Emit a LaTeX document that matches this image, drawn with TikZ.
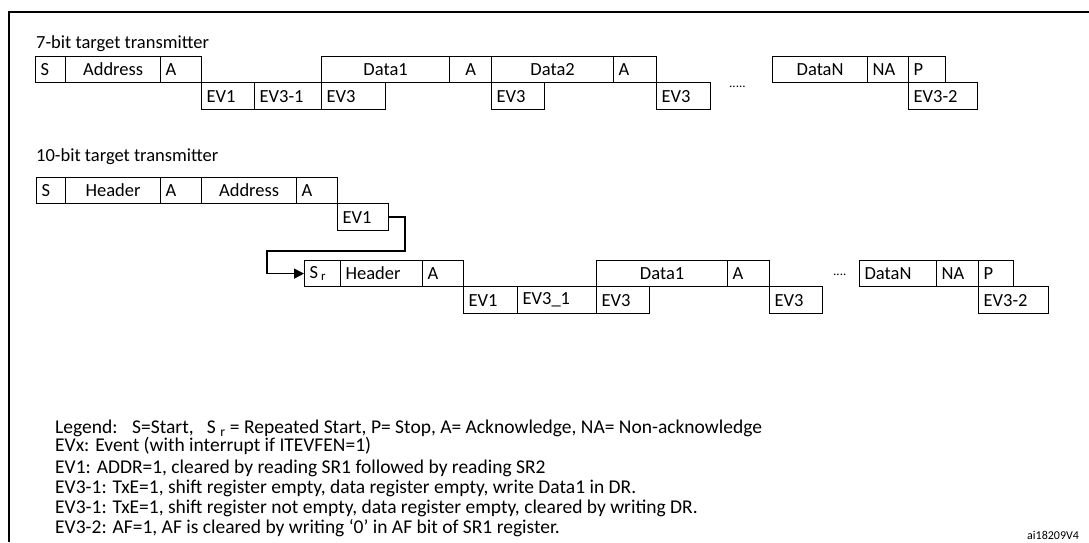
\documentclass[tikz,border=0pt]{standalone}
\usepackage{fontspec}
\setmainfont{Carlito}
\usetikzlibrary{arrows.meta}
\tikzset{
    fieldnode/.style = {
        draw=black,
        line width=1.2pt,
        rectangle,
        anchor=north west,
        inner xsep=5pt,
        inner ysep=0pt,
        minimum height=26pt,
        font=\fontsize{18.5}{20}\selectfont
    },
    lfield/.style = {
        fieldnode,
        text width=#1,
        align=left
    },
    cfield/.style = {
        fieldnode,
        text width=#1,
        align=center
    },
    txtnode/.style = {
        anchor=west,
        inner sep=0pt,
        font=\fontsize{18.5}{20}\selectfont
    },
    legendnode/.style = {
        txtnode,
        font=\fontsize{19.5}{21}\selectfont
    }
}
\begin{document}
\begin{tikzpicture}[x=1pt,y=-1pt]
    \useasboundingbox (0,0) rectangle (1089,542);
    % frame
    \draw[line width=1.5pt] (9,542) -- (9,12) -- (1089,12);

    % 7-bit
    \node[txtnode] (t7) at (36,44) {7-bit target transmitter};
    \node[lfield=20pt]  (as)  at (35,56)  {S};
    \node[cfield=85pt]  (aad) at (65,56)  {Address};
    \node[lfield=31pt]  (aa1) at (160,56) {A};
    \node[lfield=43pt,minimum height=27pt]  (aev1) at (201,82) {EV1};
    \node[lfield=57pt,minimum height=27pt]  (aev31) at (254,82) {EV3-1};
    \node[lfield=54pt,minimum height=27pt]  (aev3a) at (321,82) {EV3};
    \node[cfield=118pt] (ad1) at (321,56) {Data1};
    \node[cfield=32pt]  (aa2) at (449,56) {A};
    \node[cfield=112pt] (ad2) at (491,56) {Data2};
    \node[lfield=33pt]  (aa3) at (613,56) {A};
    \node[lfield=43pt,minimum height=27pt]  (aev3b) at (491,82) {EV3};
    \node[lfield=44pt,minimum height=27pt]  (aev3c) at (656,82) {EV3};
    \node[txtnode] (adots) at (729,87) {\fontsize{13}{13}\selectfont .....};
    \node[cfield=85pt]  (adn) at (772,56) {DataN};
    \node[lfield=31pt]  (ana) at (867,56) {NA};
    \node[lfield=27pt]  (ap)  at (908,56) {P};
    \node[lfield=59pt,minimum height=27pt]  (aev32) at (908,82) {EV3-2};

    % 10-bit
    \node[txtnode] (t10) at (36,157) {10-bit target transmitter};
    \node[lfield=19pt]  (bs)  at (36,177)  {S};
    \node[cfield=85pt]  (bh)  at (65,177)  {Header};
    \node[lfield=31pt]  (ba1) at (160,177) {A};
    \node[cfield=85pt]  (bad) at (201,177) {Address};
    \node[lfield=31pt]  (ba2) at (296,177) {A};
    \node[lfield=41pt,minimum height=27pt] (bev1) at (337,203) {EV1};

    \node[lfield=26pt]  (csr) at (304,260) {S\,$_{\mathrm{r}}$};
    \node[lfield=72pt]  (ch)  at (340,260) {Header};
    \node[lfield=31pt]  (ca)  at (422,260) {A};
    \node[lfield=44pt,minimum height=27pt]  (cev1) at (463,286) {EV1};
    \node[lfield=69pt,minimum height=27pt]  (cev31) at (517,286) {EV3\_1};
    \node[lfield=43pt,minimum height=27pt]  (cev3a) at (596,286) {EV3};
    \node[cfield=121pt] (cd1) at (596,260) {Data1};
    \node[lfield=32pt]  (ca2) at (727,260) {A};
    \node[lfield=43pt,minimum height=27pt]  (cev3b) at (769,286) {EV3};
    \node[txtnode] (cdots) at (833,275) {\fontsize{13}{13}\selectfont ....};
    \node[lfield=67pt]  (cdn) at (859,260) {DataN};
    \node[lfield=32pt]  (cna) at (936,260) {NA};
    \node[lfield=25pt]  (cp)  at (978,260) {P};
    \node[lfield=60pt,minimum height=27pt]  (cev32) at (978,286) {EV3-2};

    \coordinate (turn) at (267,251);
    \draw[line width=1.5pt,-{Triangle[length=10pt,width=10pt]}]
        (bev1.east) -- ++(16,0) |- (turn) |- (csr.west);

    % legend
    \node[legendnode] (lg1) at (55,428) {Legend: \ \ S=Start, \ \ S $_{\mathrm{r}}$ = Repeated Start, P= Stop, A= Acknowledge, NA= Non-acknowledge};
    \node[legendnode] (lg2) at (55,446) {EVx: Event (with interrupt if ITEVFEN=1)};
    \node[legendnode] (lg3) at (55,468) {EV1: ADDR=1, cleared by reading SR1 followed by reading SR2};
    \node[legendnode] (lg4) at (55,488) {EV3-1: TxE=1, shift register empty, data register empty, write Data1 in DR.};
    \node[legendnode] (lg5) at (55,508) {EV3-1: TxE=1, shift register not empty, data register empty, cleared by writing DR.};
    \node[legendnode] (lg6) at (55,528) {EV3-2: AF=1, AF is cleared by writing `0' in AF bit of SR1 register.};
    \node[txtnode,font=\fontsize{12}{12}\selectfont] (ref) at (1027,535) {ai18209V4};
\end{tikzpicture}
\end{document}
